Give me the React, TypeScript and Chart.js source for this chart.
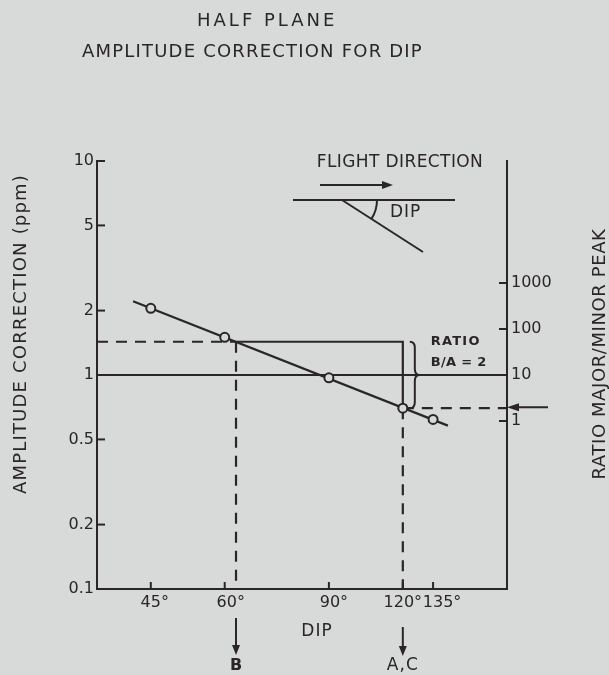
import React, { useEffect, useRef } from 'react';
import { Chart, registerables } from 'chart.js';

Chart.register(...registerables);

const W = 609;
const H = 675;
const INK = '#2a2627';
const BG = '#d8dad9';
const FONT = '"DejaVu Sans", "Liberation Sans", sans-serif';

// ---- data ----
const dipTicks = [45, 60, 90, 120, 135];
const ampTicks = [0.1, 0.2, 0.5, 1, 2, 5, 10];
const ampTickLabels = ['0.1', '0.2', '0.5', '1', '2', '5', '10'];
const ratioTicks = [1, 10, 100, 1000];

const pointDips = [45, 60, 90, 120, 135];
const pointAmps = [2.05, 1.5, 0.97, 0.7, 0.62];

const trendDips = [42, 143];
const trendAmps = [2.21, 0.58];

const dipRange = [36.5, 180];
const ampRange = [0.1, 10];
const ratioRange = [2.23e-4, 4.49e5];

const unityAmp = 1;
const dipB = 62.7;
const ampB = 1.43;
const dipA = 120;
const ampA = 0.7;
const ratioBA = 2;

// ---- layout (pixels) ----
const PLOT_TOP = 161;
const PLOT_LEFT = 97;
const PLOT_RIGHT = 507;
const PLOT_BOTTOM = 589;
const xLabelNudge: Record<number, number> = { 45: 4, 60: 6, 90: 5, 120: 0, 135: 9 };

function seg(ctx: CanvasRenderingContext2D, x0: number, y0: number, x1: number, y1: number) {
  ctx.beginPath();
  ctx.moveTo(x0, y0);
  ctx.lineTo(x1, y1);
  ctx.stroke();
}

function head(ctx: CanvasRenderingContext2D, tx: number, ty: number, dx: number, dy: number, len = 10, half = 4) {
  // arrowhead with tip (tx,ty) pointing in direction (dx,dy)
  const bx = tx - dx * len;
  const by = ty - dy * len;
  const px = -dy;
  const py = dx;
  ctx.beginPath();
  ctx.moveTo(tx, ty);
  ctx.lineTo(bx + px * half, by + py * half);
  ctx.lineTo(bx - px * half, by - py * half);
  ctx.closePath();
  ctx.fill();
}

function txt(
  ctx: CanvasRenderingContext2D,
  s: string,
  x: number,
  y: number,
  size: number,
  o: { align?: CanvasTextAlign; bold?: boolean; spacing?: number; rot?: number } = {}
) {
  ctx.save();
  ctx.translate(x, y);
  if (o.rot) ctx.rotate(o.rot);
  ctx.font = `${o.bold ? 'bold ' : ''}${size}px ${FONT}`;
  (ctx as any).letterSpacing = `${o.spacing ?? 0}px`;
  ctx.textAlign = o.align ?? 'center';
  ctx.textBaseline = 'middle';
  ctx.fillStyle = INK;
  ctx.fillText(s, 0, 0);
  ctx.restore();
}

const bgPlugin = {
  id: 'bg',
  beforeDraw(chart: any) {
    const { ctx } = chart;
    ctx.save();
    ctx.fillStyle = BG;
    ctx.fillRect(0, 0, chart.width, chart.height);
    ctx.restore();
  },
};

const annotPlugin = {
  id: 'annot',
  afterDraw(chart: any) {
    const { ctx, chartArea: ca, scales } = chart;
    const xs = scales.x;
    const ys = scales.y;
    const yr = scales.yR;
    ctx.save();
    ctx.strokeStyle = INK;
    ctx.fillStyle = INK;
    ctx.lineWidth = 2;
    ctx.setLineDash([]);

    // inward tick marks
    ampTicks.forEach((v) => {
      const y = ys.getPixelForValue(v);
      seg(ctx, ca.left, y, ca.left + 8, y);
    });
    dipTicks.forEach((v) => {
      const x = xs.getPixelForValue(v);
      seg(ctx, x, ca.bottom, x, ca.bottom - 7);
    });
    ratioTicks.forEach((v) => {
      const y = yr.getPixelForValue(v);
      seg(ctx, ca.right - 8, y, ca.right, y);
    });

    // x tick labels
    dipTicks.forEach((v) => {
      const x = xs.getPixelForValue(v) + (xLabelNudge[v] ?? 0);
      txt(ctx, `${v}°`, x, ca.bottom + 14, 16);
    });

    // titles
    txt(ctx, 'HALF PLANE', 197, 21, 18, { align: 'left', spacing: 3 });
    txt(ctx, 'AMPLITUDE CORRECTION FOR DIP', 82, 52, 18, { align: 'left', spacing: 1.2 });
    txt(ctx, 'AMPLITUDE CORRECTION (ppm)', 21, 334, 18, { rot: -Math.PI / 2, spacing: 1.2 });
    txt(ctx, 'RATIO MAJOR/MINOR PEAK', 600, 354, 18, { rot: -Math.PI / 2, spacing: 0.6 });
    txt(ctx, 'DIP', 317, 632, 17, { spacing: 1 });

    // flight direction inset
    txt(ctx, 'FLIGHT DIRECTION', 400, 163, 17, { spacing: 0.4 });
    seg(ctx, 320, 185, 384, 185);
    head(ctx, 393, 185, 1, 0, 11, 4);
    seg(ctx, 293, 200, 455, 200);
    seg(ctx, 342, 200, 423, 252);
    ctx.beginPath();
    ctx.arc(342, 200, 35, 0, Math.atan2(52, 81));
    ctx.stroke();
    txt(ctx, 'DIP', 390, 213, 17, { align: 'left', spacing: 1 });

    // brace for ratio B/A
    const xA = xs.getPixelForValue(dipA);
    const xB = xs.getPixelForValue(dipB);
    const yTop = ys.getPixelForValue(ampB);
    const yBot = ys.getPixelForValue(ampA);
    const yMid = ys.getPixelForValue(unityAmp);
    const bx0 = xA + 7;
    const bm = bx0 + 5;
    const bt = bx0 + 10;
    const r = 6;
    ctx.beginPath();
    ctx.moveTo(bx0, yTop);
    ctx.quadraticCurveTo(bm, yTop, bm, yTop + r);
    ctx.lineTo(bm, yMid - r);
    ctx.quadraticCurveTo(bm, yMid, bt, yMid);
    ctx.quadraticCurveTo(bm, yMid, bm, yMid + r);
    ctx.lineTo(bm, yBot - r);
    ctx.quadraticCurveTo(bm, yBot, bx0, yBot);
    ctx.stroke();
    txt(ctx, 'RATIO', bt + 11, yTop, 13, { align: 'left', bold: true, spacing: 1.2 });
    txt(ctx, 'B/A = 2', bt + 11, yTop + 21, 13, { align: 'left', bold: true, spacing: 0.3 });

    // arrow into right axis at ratio 2
    const yRatio = yr.getPixelForValue(ratioBA);
    seg(ctx, ca.right + 8, yRatio, ca.right + 41, yRatio);
    head(ctx, ca.right, yRatio, -1, 0, 12, 4);

    // arrows below the dip axis
    seg(ctx, xB, ca.bottom + 29, xB, ca.bottom + 57);
    head(ctx, xB, ca.bottom + 66, 0, 1, 10, 4);
    txt(ctx, 'B', xB, ca.bottom + 77, 16, { bold: true });
    seg(ctx, xA, ca.bottom + 38, xA, ca.bottom + 58);
    head(ctx, xA, ca.bottom + 67, 0, 1, 10, 4);
    txt(ctx, 'A,C', xA, ca.bottom + 77, 17, { spacing: 1 });

    ctx.restore();
  },
};

const pts = (xs: number[], ys: number[]) => xs.map((x, i) => ({ x, y: ys[i] }));

const lineDs = (data: { x: number; y: number }[], dashed: boolean, order: number) => ({
  type: 'scatter' as const,
  data,
  showLine: true,
  borderColor: INK,
  borderWidth: 2.2,
  borderDash: dashed ? [11, 8] : [],
  pointRadius: 0,
  fill: false,
  order,
});

export default function App() {
  const ref = useRef<HTMLCanvasElement>(null);

  useEffect(() => {
    document.body.style.background = BG;
    const canvas = ref.current;
    if (!canvas) return;

    const tickFont = { family: FONT, size: 16 };

    const chart = new Chart(canvas, {
      type: 'scatter',
      data: {
        datasets: [
          {
            type: 'scatter',
            data: pts(pointDips, pointAmps),
            showLine: false,
            pointRadius: 4.5,
            pointBorderWidth: 2,
            pointBackgroundColor: BG,
            pointBorderColor: INK,
            order: 0,
          } as any,
          lineDs(pts(trendDips, trendAmps), false, 1),
          lineDs([{ x: dipRange[0], y: unityAmp }, { x: dipRange[1], y: unityAmp }], false, 2),
          lineDs([{ x: dipRange[0], y: ampB }, { x: dipB, y: ampB }], true, 3),
          lineDs([{ x: dipB, y: ampB }, { x: dipB, y: ampRange[0] }], true, 3),
          lineDs([{ x: dipB, y: ampB }, { x: dipA, y: ampB }, { x: dipA, y: ampA }], false, 3),
          lineDs([{ x: dipA, y: ampA }, { x: dipA, y: ampRange[0] }], true, 3),
          lineDs([{ x: dipA, y: ampA }, { x: dipRange[1], y: ampA }], true, 3),
        ],
      },
      options: {
        responsive: false,
        maintainAspectRatio: false,
        devicePixelRatio: 1,
        animation: false,
        events: [],
        layout: { padding: { top: PLOT_TOP, left: 0, right: 0, bottom: 0 } },
        plugins: {
          legend: { display: false },
          tooltip: { enabled: false },
          title: { display: false },
        },
        scales: {
          x: {
            type: 'logarithmic',
            position: 'bottom',
            min: dipRange[0],
            max: dipRange[1],
            afterBuildTicks: (s: any) => {
              s.ticks = dipTicks.map((v) => ({ value: v }));
            },
            afterFit: (s: any) => {
              s.height = H - PLOT_BOTTOM;
            },
            ticks: { display: false },
            grid: { display: true, drawOnChartArea: false, drawTicks: false },
            border: { display: true, color: INK, width: 2 },
          },
          y: {
            type: 'logarithmic',
            position: 'left',
            min: ampRange[0],
            max: ampRange[1],
            afterBuildTicks: (s: any) => {
              s.ticks = ampTicks.map((v) => ({ value: v }));
            },
            afterFit: (s: any) => {
              s.width = PLOT_LEFT;
            },
            ticks: {
              color: INK,
              font: tickFont,
              padding: 3,
              autoSkip: false,
              callback: (v: any) => {
                const i = ampTicks.indexOf(Number(v));
                return i >= 0 ? ampTickLabels[i] : '';
              },
            },
            grid: { display: true, drawOnChartArea: false, drawTicks: false },
            border: { display: true, color: INK, width: 2 },
          },
          yR: {
            type: 'logarithmic',
            position: 'right',
            min: ratioRange[0],
            max: ratioRange[1],
            afterBuildTicks: (s: any) => {
              s.ticks = ratioTicks.map((v) => ({ value: v }));
            },
            afterFit: (s: any) => {
              s.width = W - PLOT_RIGHT;
            },
            ticks: {
              color: INK,
              font: tickFont,
              padding: 4,
              autoSkip: false,
              callback: (v: any) => String(v),
            },
            grid: { display: true, drawOnChartArea: false, drawTicks: false },
            border: { display: true, color: INK, width: 2 },
          },
        },
      } as any,
      plugins: [bgPlugin, annotPlugin],
    });

    return () => chart.destroy();
  }, []);

  return (
    <div style={{ position: 'absolute', left: 0, top: 0, width: W, height: H, background: BG }}>
      <canvas ref={ref} width={W} height={H} style={{ display: 'block', width: W, height: H }} />
    </div>
  );
}
